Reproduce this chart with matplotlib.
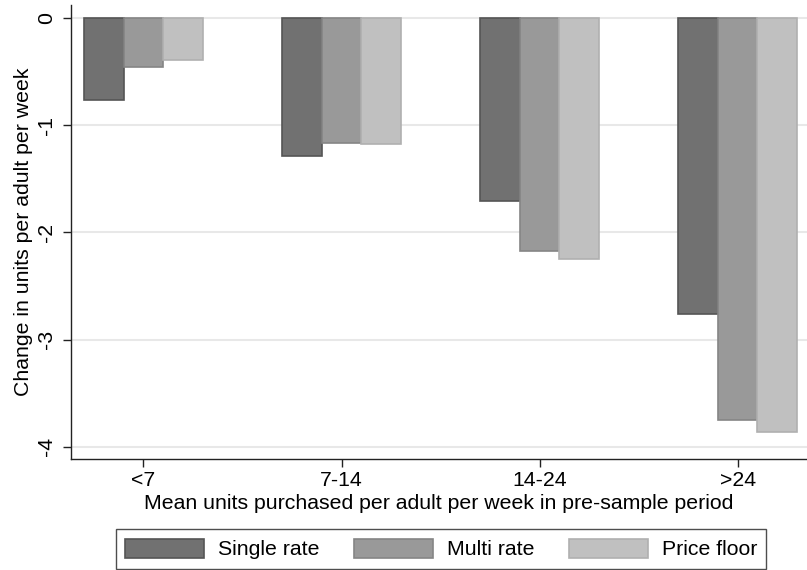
import numpy as np
import matplotlib
matplotlib.use("Agg")
import matplotlib.pyplot as plt

# Values
groups = ["<7", "7-14", "14-24", ">24"]
series_names = ["Single rate", "Multi rate", "Price floor"]
single_rate = [-0.76, -1.29, -1.71, -2.76]
multi_rate = [-0.455, -1.16, -2.175, -3.75]
price_floor = [-0.39, -1.17, -2.25, -3.86]
yticks = [0, -1, -2, -3, -4]

fills = ["#717171", "#999999", "#c0c0c0"]
edges = ["#555555", "#858585", "#b0b0b0"]

plt.rcParams["font.family"] = ["Liberation Sans", "DejaVu Sans"]
fs = 15.3

fig = plt.figure(figsize=(8.07, 5.70), dpi=100)
ax = fig.add_axes([71 / 807, 111 / 570, 736 / 807, 454 / 570])

x = np.arange(len(groups))
width = 0.2
for i, (vals, name) in enumerate(zip([single_rate, multi_rate, price_floor], series_names)):
    ax.bar(x + (i - 1) * width, vals, width, color=fills[i], edgecolor=edges[i],
           linewidth=1.2, label=name, zorder=3)

ax.set_xlim(-0.366, 3.35)
ax.set_ylim(-4.115, 0.124)
ax.set_yticks(yticks)
ax.set_yticklabels([str(t) for t in yticks], rotation=90, va="center")
ax.set_xticks(x)
ax.set_xticklabels(groups)
ax.grid(axis="y", color="#e8e8e8", linewidth=1.5, zorder=0)

for side in ["top", "right"]:
    ax.spines[side].set_visible(False)
for side in ["left", "bottom"]:
    ax.spines[side].set_color("#222222")
    ax.spines[side].set_linewidth(1.0)
ax.tick_params(axis="both", direction="out", length=5.8, width=1.0, color="#222222",
               labelsize=fs)
ax.tick_params(axis="x", pad=2.5)
ax.tick_params(axis="y", pad=5)

ax.set_xlabel("Mean units purchased per adult per week in pre-sample period", fontsize=fs, labelpad=3)
ax.set_ylabel("Change in units per adult per week", fontsize=fs, labelpad=3)

leg = ax.legend(loc="lower center", bbox_to_anchor=(441 / 807, 1 / 570),
                bbox_transform=fig.transFigure, ncol=3, fontsize=fs,
                frameon=True, fancybox=False, shadow=False, borderaxespad=0,
                handlelength=3.7, handleheight=1.0, handletextpad=0.65,
                columnspacing=1.65, borderpad=0.45)
leg.get_frame().set_edgecolor("#222222")
leg.get_frame().set_linewidth(1.0)

fig.savefig("out.png", dpi=100)
